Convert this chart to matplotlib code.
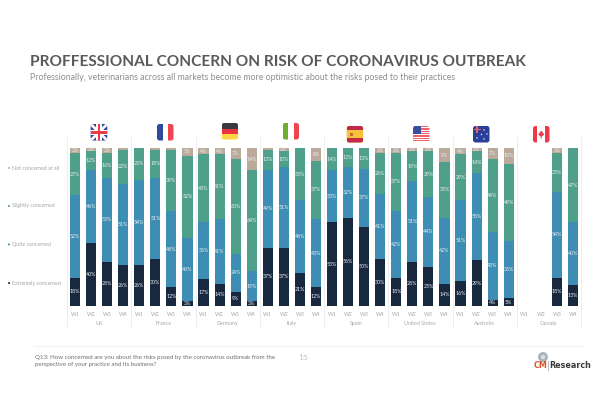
import matplotlib
matplotlib.use("Agg")
import matplotlib.pyplot as plt
from matplotlib.patches import FancyBboxPatch, Rectangle, Circle, Polygon
import numpy as np

plt.rcParams['font.family'] = ['Lato', 'DejaVu Sans']

title = "PROFFESSIONAL CONCERN ON RISK OF CORONAVIRUS OUTBREAK"
subtitle = "Professionally, veterinarians across all markets become more optimistic about the risks posed to their practices"
footnote = "Q13: How concerned are you about the risks posed by the coronavirus outbreak from the\nperspective of your practice and its business?"
countries = ["UK", "France", "Germany", "Italy", "Spain", "United States", "Australia", "Canada"]
waves = ["W1", "W2", "W3", "W4"]
series_names = ["Extremely concerned", "Quite concerned", "Slightly concerned", "Not concerned at all"]
colors = ["#18293F", "#3E8DB4", "#4FA08B", "#BBA999"]

extremely = [18, 40, 28, 26,  26, 30, 12, 3,  17, 14, 9, 3,  37, 37, 21, 12,
             53, 56, 50, 30,  18, 28, 25, 14,  16, 29, 4, 5,  0, 0, 18, 13]
quite = [52, 46, 53, 51,  54, 51, 48, 40,  36, 41, 24, 19,  49, 51, 46, 43,
         33, 32, 37, 41,  42, 51, 44, 42,  51, 55, 43, 36,  0, 0, 54, 40]
slightly = [27, 12, 16, 22,  20, 18, 39, 52,  43, 41, 60, 64,  13, 10, 33, 37,
            14, 12, 13, 26,  37, 19, 29, 35,  29, 14, 46, 49,  0, 0, 25, 47]
not_at_all = [3, 2, 3, 1,  0, 1, 1, 5,  4, 4, 7, 14,  1, 2, 0, 8,
              0, 0, 0, 3,  3, 2, 2, 9,  4, 2, 7, 10,  0, 0, 3, 0]
series = [extremely, quite, slightly, not_at_all]

W, H = 600, 400
fig = plt.figure(figsize=(6, 4), dpi=100, facecolor="white")

# overlay in pixel coordinates for page furniture
pg = fig.add_axes([0, 0, 1, 1])
pg.set_xlim(0, W); pg.set_ylim(H, 0); pg.axis("off")

# chart axes
left, right, top, bottom = 67, 581, 148, 306
ax = fig.add_axes([left / W, 1 - bottom / H, (right - left) / W, (bottom - top) / H])
ax.patch.set_alpha(0)
x = np.arange(len(extremely))
base = np.zeros(len(x))
for vals, col in zip(series, colors):
    vals = np.array(vals)
    ax.bar(x, vals, bottom=base, width=0.63, color=col, linewidth=0)
    for xi, b, v in zip(x, base, vals):
        if v >= 2:
            ax.text(xi, b + v / 2, f"{v}%", ha="center", va="center", color="#E8EEF0", fontsize=3.8)
    base += vals
ax.set_xlim(-0.5, len(x) - 0.5)
ax.set_ylim(0, 100)
ax.set_yticks([])
ax.set_xticks(x)
ax.set_xticklabels(waves * len(countries), fontsize=3.9, color="#A8A8A8")
ax.tick_params(axis="x", length=0, pad=4)
for s in ax.spines.values():
    s.set_visible(False)

trans = ax.get_xaxis_transform()
for i in range(len(countries) + 1):
    ax.plot([i * 4 - 0.5] * 2, [1.07, -0.135], transform=trans, color="#E4E8EC", lw=0.5, clip_on=False)
for i, c in enumerate(countries):
    ax.text(i * 4 + 1.5, -0.11, c, transform=trans, ha="center", va="center", fontsize=3.9, color="#A8A8A8")

# legend
for name, col, y in zip(series_names[::-1], colors[::-1], [168, 206, 244.5, 283]):
    pg.add_patch(Circle((9, y), 1.0, color=col, lw=0))
    pg.text(12, y, name, fontsize=3.8, color="#A5A5A5", va="center")

# title block
pg.text(30, 62, title, fontsize=11.05, fontweight="bold", color="#5A5A5A", va="center")
pg.text(30, 77.5, subtitle, fontsize=6.27, color="#8E8E8E", va="center")

# footer
pg.plot([34, 585], [346, 346], color="#EFEFEF", lw=0.6)
pg.text(35, 361, footnote, fontsize=4.4, color="#6E6E6E", va="center", linespacing=1.3)
pg.text(303, 358, "15", fontsize=5.5, color="#BDBDBD", va="center", ha="center", family="DejaVu Serif")
pg.add_patch(Circle((543, 357), 5, color="#A9B4BB", lw=0))
pg.add_patch(Circle((543, 357), 2.2, color="#D8DEE2", lw=0))
pg.text(547, 366, "CM", fontsize=5.8, fontweight="bold", color="#D9542B", va="center", ha="right", family="DejaVu Sans")
pg.plot([548, 548], [361, 370], color="#999999", lw=0.5)
pg.text(549.5, 366, "Research", fontsize=5.8, fontweight="bold", color="#3A3A3A", va="center", ha="left", family="DejaVu Sans")


def flag(x0, y0, painter, bg="white", w=16.5, h=16.5):
    clip = FancyBboxPatch((x0 + 2.5, y0 + 2.5), w - 5, h - 5, boxstyle="round,pad=2.5",
                          facecolor=bg, edgecolor="none")
    pg.add_patch(clip)
    for art in painter(x0, y0, w, h):
        pg.add_patch(art)
        art.set_clip_path(clip)


def rect(x, y, w, h, c):
    return Rectangle((x, y), w, h, facecolor=c, edgecolor="none")


def uk(x, y, w, h):
    return [Polygon([(x, y), (x + 2, y), (x + w, y + h - 2), (x + w, y + h), (x + w - 2, y + h), (x, y + 2)], fc="white", ec="none"),
            Polygon([(x + w, y), (x + w, y + 2), (x + 2, y + h), (x, y + h), (x, y + h - 2), (x + w - 2, y)], fc="white", ec="none"),
            rect(x + w / 2 - 2.6, y, 5.2, h, "white"), rect(x, y + h / 2 - 2.6, w, 5.2, "white"),
            rect(x + w / 2 - 1.4, y, 2.8, h, "#EE3B4B"), rect(x, y + h / 2 - 1.4, w, 2.8, "#EE3B4B")]


def france(x, y, w, h):
    return [rect(x, y, w / 3, h, "#2F4A9C"), rect(x + 2 * w / 3, y, w / 3, h, "#F0444F")]


def germany(x, y, w, h):
    return [rect(x, y, w, h / 3, "#3A3A40"), rect(x, y + h / 3, w, h / 3, "#E8343C"), rect(x, y + 2 * h / 3, w, h / 3, "#FBD640")]


def italy(x, y, w, h):
    return [rect(x, y, w / 3, h, "#6FAF2E"), rect(x + 2 * w / 3, y, w / 3, h, "#F0444F")]


def spain(x, y, w, h):
    return [rect(x, y, w, h / 4, "#C22A48"), rect(x, y + 3 * h / 4, w, h / 4, "#C22A48"),
            rect(x + 3.5, y + 6.5, 3, 3.5, "#C86A2A")]


def usa(x, y, w, h):
    arts = [rect(x, y + i * h / 7, w, h / 14, "#F0606A") for i in range(7)]
    arts.append(rect(x, y, w * 0.5, h * 0.5, "#3A4FA0"))
    return arts


def australia(x, y, w, h):
    arts = [rect(x + 1, y + 3, w * 0.45, 1.4, "#E8606A"), rect(x + 3.2, y, 1.4, h * 0.45, "#E8606A")]
    for px, py in [(4, 12), (11, 4), (14, 8), (11, 13), (8.5, 8.5)]:
        arts.append(Circle((x + px, y + py), 0.7, fc="white", ec="none"))
    return arts


def canada(x, y, w, h):
    return [rect(x, y, w * 0.27, h, "#F0384A"), rect(x + w * 0.73, y, w * 0.27, h, "#F0384A"),
            Polygon([(x + w / 2, y + 4.5), (x + w / 2 + 3, y + 8.5), (x + w / 2 + 0.5, y + 10.5), (x + w / 2 + 0.5, y + 12.5),
                     (x + w / 2 - 0.5, y + 12.5), (x + w / 2 - 0.5, y + 10.5), (x + w / 2 - 3, y + 8.5)], fc="#F0384A", ec="none")]


flag(90.7, 124, uk, "#2F3F8F")
flag(157, 124, france)
flag(221.7, 123, germany)
flag(282.5, 123, italy)
flag(346.7, 126, spain, "#F5C33B")
flag(413, 126, usa)
flag(473, 126, australia, "#2A3F9A")
flag(533, 126, canada)

fig.savefig("out.png", dpi=100, facecolor="white")
